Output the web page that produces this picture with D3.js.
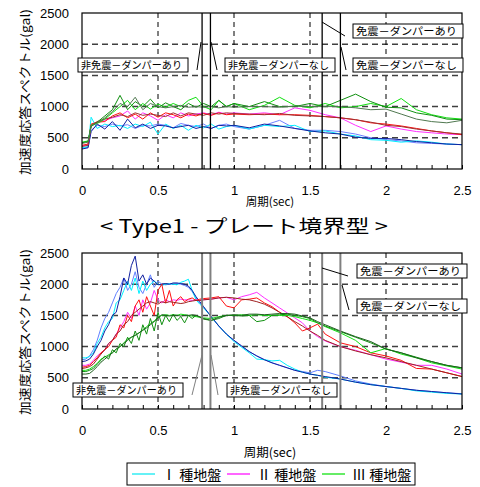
<!DOCTYPE html>
<html>
<meta charset="utf-8">
<script src="https://d3js.org/d3.v7.min.js"></script>
<style>
  body { margin: 0; background: #fff; }
  text { font-family: "Liberation Sans", Arial, sans-serif; }
  .jp { font-family: "Noto Sans CJK JP", sans-serif; }
</style>
<div id="chart"></div>
<script>
// period grid and spectra, upper panel
var topT = [0, 0.04, 0.06, 0.1, 0.15, 0.2, 0.25, 0.3, 0.35, 0.4, 0.45, 0.5, 0.55, 0.6, 0.65, 0.7, 0.75, 0.8, 0.85, 0.9, 0.95, 1.0,
            1.1, 1.2, 1.3, 1.4, 1.5, 1.6, 1.7, 1.8, 1.9, 2.0, 2.1, 2.2, 2.3, 2.4, 2.5];
var topI_cyan  = [340, 360, 830, 650, 720, 680, 700, 650, 720, 680, 750, 560, 720, 650, 700, 620, 700, 660, 720, 640, 680, 700,
                  640, 700, 680, 700, 600, 610, 560, 530, 470, 460, 430, 450, 430, 400, 390];
var topI_light = [330, 350, 620, 700, 680, 720, 690, 710, 650, 700, 690, 720, 700, 660, 730, 700, 680, 720, 650, 700, 720, 680,
                  640, 700, 780, 650, 620, 620, 600, 560, 500, 470, 450, 420, 410, 400, 390];
var topI_navy  = [320, 340, 600, 720, 640, 760, 620, 800, 660, 720, 650, 700, 690, 660, 680, 700, 650, 680, 650, 700, 690, 700,
                  660, 720, 690, 650, 610, 580, 560, 510, 490, 490, 470, 440, 420, 400, 390];
var topII_mag  = [370, 390, 700, 740, 780, 820, 850, 930, 800, 900, 850, 780, 870, 820, 900, 850, 880, 900, 870, 910, 880, 900,
                  880, 900, 870, 980, 940, 870, 820, 700, 600, 690, 640, 600, 580, 560, 550];
var topII_red  = [380, 400, 720, 750, 760, 850, 900, 820, 880, 800, 900, 830, 900, 870, 820, 880, 850, 890, 860, 900, 870, 880,
                  870, 880, 870, 870, 860, 840, 820, 790, 740, 720, 690, 650, 610, 580, 550];
var topII_dark = [360, 380, 700, 760, 800, 830, 870, 840, 900, 860, 880, 860, 840, 900, 850, 900, 880, 860, 900, 880, 900, 890,
                  880, 870, 890, 860, 850, 840, 820, 790, 750, 700, 680, 640, 610, 580, 560];
var topIII_lime  = [430, 450, 700, 730, 800, 900, 1000, 1100, 950, 1050, 960, 1040, 990, 1050, 1000, 1100, 1150, 1000, 950, 1100, 1000, 1050,
                    950, 1020, 1150, 1020, 980, 1050, 980, 1000, 1050, 1000, 1130, 950, 870, 820, 800];
var topIII_green = [420, 440, 680, 750, 850, 950, 1180, 950, 1080, 1000, 1120, 980, 1060, 1000, 950, 1050, 990, 1050, 1000, 1100, 1000, 1050,
                    1000, 1080, 1000, 1000, 1050, 1000, 1100, 1200, 1080, 990, 980, 900, 860, 800, 790];
var topIII_dark  = [410, 430, 690, 740, 820, 920, 1050, 1000, 1150, 950, 1050, 1000, 980, 1000, 1020, 990, 1000, 990, 1000, 980, 1000, 990,
                    1000, 1000, 990, 1010, 1000, 1000, 1000, 980, 950, 960, 880, 800, 760, 740, 780];

// period grid and spectra, lower panel
var botT = [0, .025, .05, .075, .1, .125, .15, .175, .2, .225, .25, .275, .3, .325, .35, .375, .4, .425, .45, .475,
            .5, .525, .55, .575, .6, .625, .65, .675, .7, .725, .75, .775, .8,
            .85, .9, .95, 1.0, 1.05, 1.1, 1.15, 1.2, 1.25, 1.3, 1.35, 1.4, 1.45, 1.5, 1.55, 1.6,
            1.7, 1.8, 1.9, 2.0, 2.1, 2.2, 2.3, 2.4, 2.5];
var botI_cyan  = [820, 820, 840, 900, 1050, 1150, 1300, 1400, 1450, 1700, 1750, 1900, 2050, 1900, 2100, 1850, 2050, 1900, 2000, 2050,
                  2000, 1980, 2000, 2010, 2000, 1990, 2030, 2050, 2080, 1900, 1750, 1680, 1620,
                  1480, 1330, 1200, 1080, 990, 900, 800, 790, 770, 780, 700, 640, 590, 560, 540, 510,
                  480, 430, 390, 360, 330, 290, 270, 250, 240];
var botI_light = [790, 800, 850, 950, 1100, 1300, 1450, 1550, 1700, 1850, 1950, 2100, 1900, 2000, 2200, 1950, 1850, 2000, 2150, 1950,
                  2050, 2000, 1990, 2000, 2000, 2010, 2000, 1980, 1950, 1880, 1780, 1700, 1630,
                  1480, 1330, 1200, 1100, 1010, 920, 850, 790, 740, 700, 660, 620, 600, 580, 620, 600,
                  530, 450, 400, 360, 330, 300, 280, 260, 245];
var botI_navy  = [760, 770, 800, 880, 1000, 1100, 1250, 1350, 1500, 1550, 1800, 2100, 2000, 2300, 2450, 2050, 2150, 2000, 2100, 2050,
                  1990, 2000, 2010, 2000, 2020, 2020, 2010, 2000, 1970, 1900, 1800, 1720, 1640,
                  1480, 1330, 1200, 1100, 1010, 920, 850, 790, 740, 700, 660, 620, 590, 560, 540, 520,
                  480, 430, 390, 360, 330, 300, 280, 260, 240];
var botII_mag  = [700, 700, 720, 780, 850, 900, 950, 1050, 1100, 1200, 1300, 1400, 1550, 1450, 1650, 1500, 1750, 1600, 1700, 1900,
                  1750, 1700, 1750, 1720, 1750, 1740, 1760, 1750, 1750, 1740, 1750, 1740, 1750,
                  1760, 1780, 1790, 1750, 1800, 1830, 1870, 1780, 1700, 1620, 1540, 1460, 1380, 1250, 1160, 1090,
                  1000, 940, 870, 800, 750, 700, 700, 640, 560];
var botII_red  = [670, 680, 700, 760, 820, 900, 950, 1000, 1100, 1150, 1350, 1300, 1500, 1400, 1650, 1750, 1550, 1800, 1650, 1500,
                  1900, 2000, 1700, 1900, 1650, 1750, 1800, 1720, 1760, 1780, 1740, 1760, 1770,
                  1780, 1800, 1650, 1620, 1750, 1760, 1780, 1700, 1640, 1550, 1480, 1380, 1250, 1300, 1360, 1200,
                  1060, 1000, 900, 850, 780, 650, 640, 580, 520];
var botII_dark = [650, 660, 680, 720, 800, 880, 950, 1050, 1100, 1200, 1250, 1350, 1400, 1500, 1550, 1600, 1650, 1700, 1720, 1700,
                  1680, 1720, 1700, 1720, 1710, 1700, 1690, 1700, 1720, 1730, 1740, 1740, 1750,
                  1760, 1780, 1790, 1780, 1760, 1750, 1720, 1680, 1620, 1550, 1480, 1400, 1330, 1250, 1180, 1100,
                  1000, 930, 870, 820, 760, 700, 640, 580, 520];
var botIII_lime  = [620, 620, 640, 680, 730, 800, 830, 870, 900, 960, 1000, 1060, 1120, 1150, 1180, 1220, 1270, 1320, 1370, 1410,
                    1470, 1500, 1510, 1500, 1510, 1500, 1520, 1510, 1500, 1490, 1480, 1470, 1460,
                    1450, 1480, 1500, 1500, 1510, 1500, 1510, 1500, 1500, 1500, 1500, 1480, 1450, 1420, 1380, 1320,
                    1220, 1100, 900, 970, 880, 820, 740, 690, 640];
var botIII_green = [600, 600, 620, 650, 720, 780, 850, 800, 950, 900, 1050, 1000, 1150, 1050, 1250, 1100, 1350, 1200, 1450, 1250,
                    1550, 1350, 1500, 1400, 1520, 1420, 1480, 1380, 1500, 1450, 1500, 1470, 1440,
                    1420, 1450, 1500, 1500, 1490, 1500, 1400, 1420, 1500, 1510, 1520, 1500, 1480, 1450, 1380, 1330,
                    1240, 1150, 1060, 960, 900, 830, 760, 700, 660];
var botIII_dark  = [560, 560, 570, 620, 680, 750, 800, 850, 900, 960, 1000, 1050, 1100, 1150, 1180, 1220, 1260, 1300, 1350, 1400,
                    1460, 1510, 1500, 1490, 1500, 1500, 1490, 1500, 1500, 1510, 1500, 1480, 1450,
                    1420, 1470, 1500, 1510, 1500, 1520, 1520, 1510, 1520, 1530, 1530, 1520, 1490, 1460, 1400, 1350,
                    1250, 1160, 1080, 960, 900, 820, 760, 700, 660];

// natural periods of the four structures
var periodLines = [0.79, 0.845, 1.58, 1.70];
var yTicks = [0, 500, 1000, 1500, 2000, 2500];
var xTicks = [0, 0.5, 1, 1.5, 2, 2.5];
var legendNames = ["Ⅰ 種地盤", "Ⅱ 種地盤", "Ⅲ 種地盤"];
var legendColors = ["#00e8f0", "#ff00ff", "#00e000"];

var W = 480, H = 487;
var svg = d3.select("#chart").append("svg")
    .attr("width", W).attr("height", H);
svg.append("rect").attr("width", W).attr("height", H).attr("fill", "#fff");

var x = d3.scaleLinear().domain([0, 2.5]).range([82, 462]);

function drawPanel(top, T, series, vColor, vWidth, notes) {
    var y = d3.scaleLinear().domain([0, 2500]).range([top + 156, top]);
    var g = svg.append("g");

    // grid
    g.selectAll(".hg").data([500, 1000, 1500, 2000]).enter().append("line")
        .attr("x1", 82).attr("x2", 462)
        .attr("y1", function(d) { return y(d); }).attr("y2", function(d) { return y(d); })
        .attr("stroke", "#404040").attr("stroke-width", 1.5).attr("stroke-dasharray", "6,4");
    g.selectAll(".vg").data([0.5, 1, 1.5, 2]).enter().append("line")
        .attr("x1", function(d) { return x(d); }).attr("x2", function(d) { return x(d); })
        .attr("y1", top).attr("y2", top + 156)
        .attr("stroke", "#000").attr("stroke-width", 1).attr("stroke-dasharray", "5,4");

    // spectra
    var clipId = "clip" + top;
    svg.append("clipPath").attr("id", clipId).append("rect")
        .attr("x", 82).attr("y", top).attr("width", 380).attr("height", 156);
    var line = d3.line()
        .x(function(d, i) { return x(T[i]); })
        .y(function(d) { return y(d); });
    g.append("g").attr("clip-path", "url(#" + clipId + ")")
        .selectAll("path").data(series).enter().append("path")
        .attr("d", function(s) { return line(s.v); })
        .attr("fill", "none")
        .attr("stroke", function(s) { return s.c; })
        .attr("stroke-width", 1);

    // natural period lines
    g.selectAll(".pl").data(periodLines).enter().append("line")
        .attr("x1", function(d) { return x(d); }).attr("x2", function(d) { return x(d); })
        .attr("y1", top).attr("y2", top + 156)
        .attr("stroke", vColor).attr("stroke-width", vWidth);

    // frame
    g.append("rect").attr("x", 82).attr("y", top).attr("width", 380).attr("height", 156)
        .attr("fill", "none").attr("stroke", "#000").attr("stroke-width", 1.2);

    // minor x ticks inside
    g.append("g").attr("transform", "translate(0," + (top + 156) + ")")
        .call(d3.axisBottom(x).tickValues(d3.range(0, 2.51, 0.1)).tickSize(-4).tickFormat(""))
        .call(function(a) { a.select(".domain").remove(); });

    // tick labels
    g.append("g").attr("transform", "translate(0," + (top + 156) + ")")
        .call(d3.axisBottom(x).tickValues(xTicks).tickSize(0).tickPadding(17).tickFormat(function(d) { return String(d); }))
        .call(function(a) { a.select(".domain").remove(); a.selectAll("text").attr("font-size", 13).attr("font-family", "Liberation Sans, Arial, sans-serif"); });
    g.append("g").attr("transform", "translate(82,0)")
        .call(d3.axisLeft(y).tickValues(yTicks).tickSize(0).tickPadding(13).tickFormat(d3.format("d")))
        .call(function(a) { a.select(".domain").remove(); a.selectAll("text").attr("font-size", 13).attr("font-family", "Liberation Sans, Arial, sans-serif"); });

    // axis titles
    g.append("text").attr("class", "jp")
        .attr("transform", "translate(30," + (top + 79) + ") rotate(-90)")
        .attr("text-anchor", "middle").attr("font-size", 12.5)
        .attr("textLength", 166).attr("lengthAdjust", "spacingAndGlyphs")
        .text("加速度応答スペクトル(gal)");

    // annotations
    notes.forEach(function(n) {
        g.append("polyline").attr("points", n.lead).attr("fill", "none")
            .attr("stroke", n.lc).attr("stroke-width", 1);
        g.append("rect").attr("x", n.x).attr("y", n.y).attr("width", 110).attr("height", 14)
            .attr("fill", "#fff").attr("stroke", "#000").attr("stroke-width", 1);
        g.append("text").attr("class", "jp").attr("x", n.x + 3).attr("y", n.y + 11)
            .attr("font-size", 10.5).attr("textLength", 101).attr("lengthAdjust", "spacingAndGlyphs")
            .text(n.t);
    });
}

drawPanel(13, topT, [
    { v: topI_light, c: "#7080ff" }, { v: topI_cyan, c: "#00f0ff" }, { v: topI_navy, c: "#1020a0" },
    { v: topII_mag, c: "#ff30ff" }, { v: topII_red, c: "#ff1010" }, { v: topII_dark, c: "#a03030" },
    { v: topIII_lime, c: "#10e010" }, { v: topIII_green, c: "#109010" }, { v: topIII_dark, c: "#507850" }
], "#000", 1.3, [
    { x: 78, y: 58, t: "非免震－ダンパーあり", lead: "197,70 201,42", lc: "#000" },
    { x: 225, y: 58, t: "非免震－ダンパーなし", lead: "211,42 217,70", lc: "#000" },
    { x: 353, y: 24, t: "免震－ダンパーあり", lead: "322,22 345,36", lc: "#000" },
    { x: 353, y: 58, t: "免震－ダンパーなし", lead: "341,47 346,70", lc: "#000" }
]);

drawPanel(253, botT, [
    { v: botI_light, c: "#6080ff" }, { v: botI_cyan, c: "#00f0ff" }, { v: botI_navy, c: "#1020a0" },
    { v: botII_mag, c: "#ff30ff" }, { v: botII_red, c: "#ff1010" }, { v: botII_dark, c: "#a02020" },
    { v: botIII_lime, c: "#10e010" }, { v: botIII_green, c: "#109010" }, { v: botIII_dark, c: "#206020" }
], "#808080", 2, [
    { x: 73, y: 383, t: "非免震－ダンパーあり", lead: "192,395 202,355", lc: "#808080" },
    { x: 227, y: 383, t: "非免震－ダンパーなし", lead: "211,355 218,395", lc: "#808080" },
    { x: 357, y: 264, t: "免震－ダンパーあり", lead: "322,268 348,276", lc: "#000" },
    { x: 357, y: 299, t: "免震－ダンパーなし", lead: "342,285 349,310", lc: "#000" }
]);

// x axis titles and type title
svg.append("text").attr("class", "jp").attr("x", 270).attr("y", 206)
    .attr("text-anchor", "middle").attr("font-size", 11.5).text("周期(sec)");
svg.append("text").attr("class", "jp").attr("x", 270).attr("y", 457)
    .attr("text-anchor", "middle").attr("font-size", 12.5).text("周期(sec)");
svg.append("text").attr("class", "jp").attr("x", 244).attr("y", 233)
    .attr("text-anchor", "middle").attr("font-size", 18.5)
    .attr("textLength", 288).attr("lengthAdjust", "spacingAndGlyphs")
    .text("< Type1 - プレート境界型 >");

// legend
var lg = svg.append("g");
lg.append("rect").attr("x", 127).attr("y", 463).attr("width", 288).attr("height", 22)
    .attr("fill", "#fff").attr("stroke", "#000").attr("stroke-width", 1);
var items = lg.selectAll(".it").data(legendNames).enter().append("g")
    .attr("transform", function(d, i) { return "translate(" + (132 + i * 95) + ",474)"; });
items.append("line").attr("x1", 0).attr("x2", 23).attr("stroke", function(d, i) { return legendColors[i]; })
    .attr("stroke-width", 1.2);
items.append("text").attr("class", "jp").attr("x", 30).attr("y", 5.5)
    .attr("font-size", 14).text(function(d) { return d; });
</script>
</html>
